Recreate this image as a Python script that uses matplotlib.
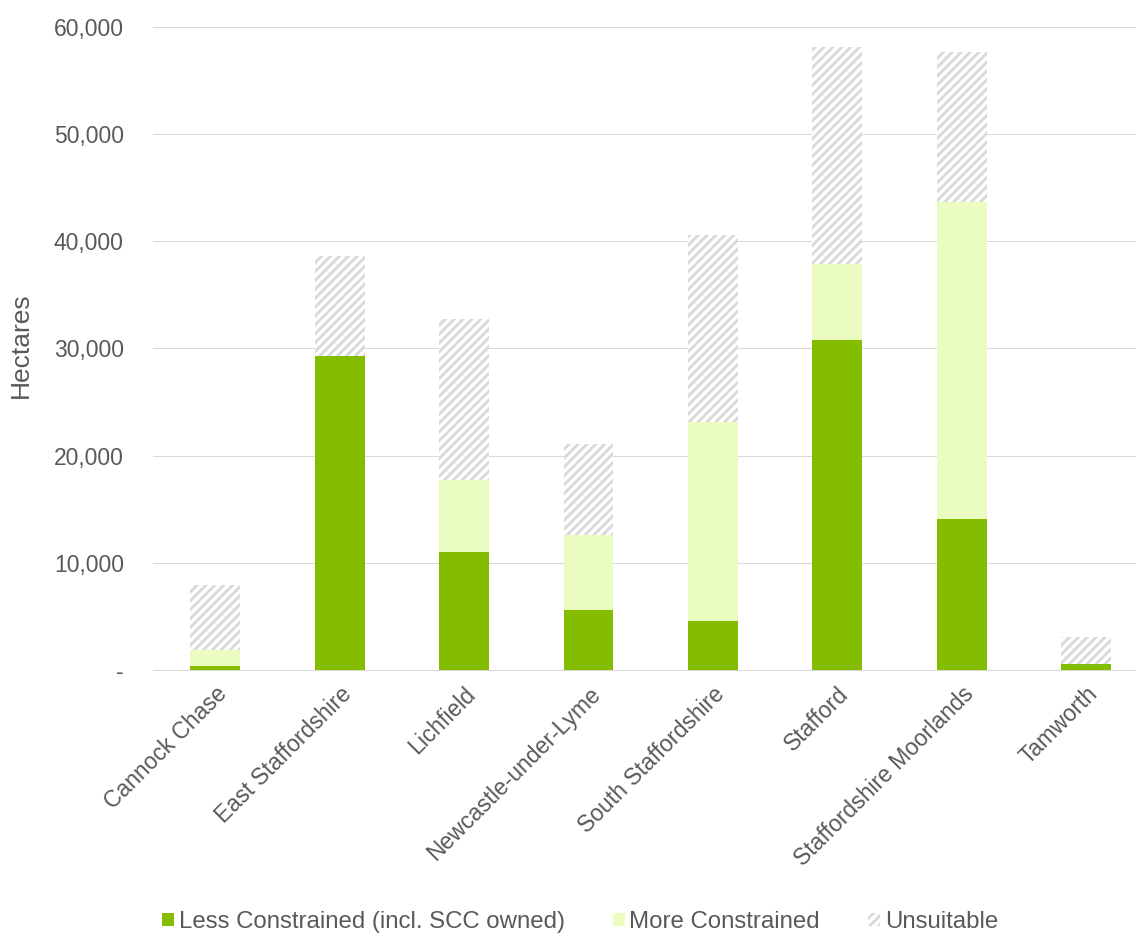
import matplotlib
matplotlib.use("Agg")
import matplotlib.pyplot as plt
from matplotlib.ticker import FuncFormatter
from matplotlib.patches import Patch

plt.rcParams['font.family'] = ['Liberation Sans', 'DejaVu Sans']

DPI = 80
K = 100 / DPI  # convert sizes specified for 100 dpi into points at DPI
plt.rcParams['hatch.linewidth'] = 2.6

categories = ["Cannock Chase", "East Staffordshire", "Lichfield", "Newcastle-under-Lyme",
              "South Staffordshire", "Stafford", "Staffordshire Moorlands", "Tamworth"]
less_constrained = [350, 29300, 11000, 5600, 4570, 30790, 14100, 600]
more_constrained = [1500, 0, 6720, 7000, 18570, 7090, 29570, 0]
unsuitable = [6080, 9330, 15030, 8490, 17450, 20250, 14000, 2480]

green = '#84bd00'
light = '#ebfcc0'
hatch_col = '#d9d9d9'
text_col = '#595959'

fig = plt.figure(figsize=(1136 / DPI, 934 / DPI), dpi=DPI)
ax = fig.add_axes([153/1136, 1-670/934, (1136-153)/1136, (670-27)/934])

x = list(range(len(categories)))
w = 0.4
b2 = [a + b for a, b in zip(less_constrained, more_constrained)]
ax.bar(x, less_constrained, w, color=green, zorder=3)
ax.bar(x, more_constrained, w, bottom=less_constrained, color=light, zorder=3)
ax.bar(x, unsuitable, w, bottom=b2, facecolor='white', edgecolor=hatch_col,
       hatch='///', linewidth=0, zorder=3)

ax.set_xlim(-0.5, 7.4)
ax.set_ylim(0, 60000)
ax.set_yticks(range(0, 60001, 10000))
ax.yaxis.set_major_formatter(FuncFormatter(lambda v, p: '-' if v == 0 else f'{int(v):,}'))
ax.grid(axis='y', color='#d9d9d9', linewidth=1.0 * K * 0.72, zorder=0)
for s in ['top', 'right', 'left']:
    ax.spines[s].set_visible(False)
ax.spines['bottom'].set_color('#d9d9d9')
ax.spines['bottom'].set_linewidth(1.0 * K * 0.72)
ax.tick_params(axis='y', length=0, pad=21 * K, labelsize=16.5 * K, labelcolor=text_col)
ax.tick_params(axis='x', length=0, pad=9 * K, labelsize=16.5 * K, labelcolor=text_col)
ax.set_xticks(x)
ax.set_xticklabels(categories, rotation=45, ha='right', rotation_mode='anchor')
ax.set_ylabel('Hectares', fontsize=19 * K, color=text_col)
ax.yaxis.set_label_coords(-(153-33)/(1136-153), (670-345)/(670-27))

handles = [Patch(facecolor=green, label='Less Constrained (incl. SCC owned)'),
           Patch(facecolor=light, label='More Constrained'),
           Patch(facecolor='white', edgecolor=hatch_col, hatch='///', linewidth=0, label='Unsuitable')]
fig.legend(handles=handles, loc='center', bbox_to_anchor=(580/1136, 1-922/934), ncol=3,
           frameon=False, fontsize=17.3 * K, labelcolor=text_col, handlelength=0.5, handleheight=0.5,
           handletextpad=0.2, columnspacing=2.0)

fig.savefig('out.png', dpi=DPI)
